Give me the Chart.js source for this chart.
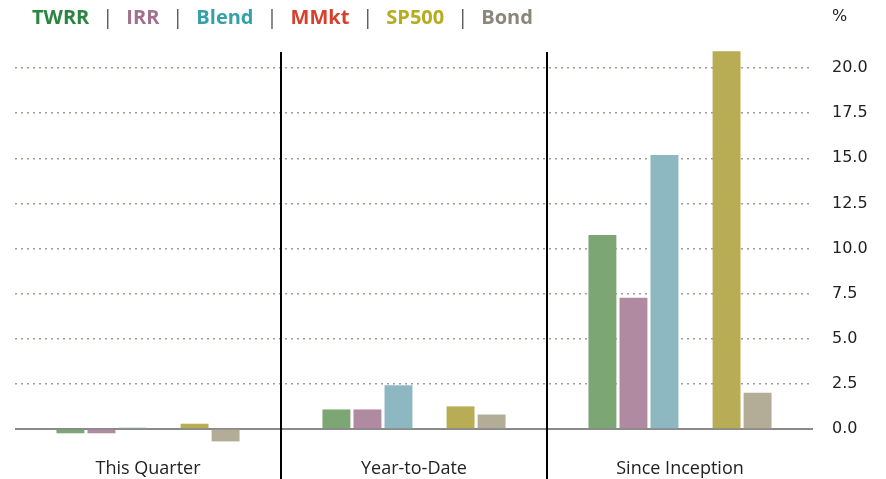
<!DOCTYPE html>
<html>
<head>
<meta charset="utf-8">
<script src="https://cdn.jsdelivr.net/npm/chart.js@4.4.1/dist/chart.umd.min.js"></script>
<style>
  html, body { margin: 0; padding: 0; background: #fff; }
  #wrap { position: relative; width: 886px; height: 479px; }
  #legend { position: absolute; left: 32px; top: 3px; font-family: "Open Sans", sans-serif; font-weight: 700; font-size: 20px; white-space: nowrap; }
  #legend span { display: inline-block; }
  #legend .sep { color: #555; font-weight: 400; margin: 0 13px; }
  canvas { position: absolute; left: 0; top: 0; }
</style>
</head>
<body>
<div id="wrap">
  <canvas id="c" width="886" height="479"></canvas>
  <div id="legend"></div>
</div>
<script>
const categories = ['This Quarter', 'Year-to-Date', 'Since Inception'];
const seriesNames = ['TWRR', 'IRR', 'Blend', 'MMkt', 'SP500', 'Bond'];
const twrr  = [-0.24, 1.08, 10.75];
const irr   = [-0.24, 1.08, 7.27];
const blend = [0.07, 2.42, 15.18];
const mmkt  = [0.04, 0.04, 0.04];
const sp500 = [0.29, 1.25, 20.93];
const bond  = [-0.69, 0.80, 2.01];
const yTicks = [0, 2.5, 5, 7.5, 10, 12.5, 15, 17.5, 20];

const barColors = ['#7da675', '#b08aa1', '#8db8c1', '#7e3a30', '#b8ac55', '#b3ad98'];
const legendColors = ['#2b8540', '#a0708f', '#35a0a8', '#d6402c', '#b5ad1f', '#8a867a'];
const values = [twrr, irr, blend, mmkt, sp500, bond];

// HTML legend
const lg = document.getElementById('legend');
seriesNames.forEach((n, i) => {
  if (i > 0) { const s = document.createElement('span'); s.className = 'sep'; s.textContent = '|'; lg.appendChild(s); }
  const t = document.createElement('span'); t.textContent = n; t.style.color = legendColors[i]; lg.appendChild(t);
});

const overlay = {
  id: 'overlay',
  beforeDatasetsDraw(chart) {
    const { ctx, chartArea, scales } = chart;
    const y0 = scales.y.getPixelForValue(0);
    ctx.save();
    ctx.strokeStyle = '#8a8a8a';
    ctx.lineWidth = 2;
    ctx.beginPath();
    ctx.moveTo(chartArea.left, y0);
    ctx.lineTo(chartArea.right, y0);
    ctx.stroke();
    ctx.restore();
  },
  afterDraw(chart) {
    const { ctx, chartArea, scales } = chart;
    const xs = scales.x;
    ctx.save();
    ctx.strokeStyle = '#000';
    ctx.lineWidth = 2;
    for (let i = 1; i < categories.length; i++) {
      const x = Math.round((xs.getPixelForTick(i - 1) + xs.getPixelForTick(i)) / 2);
      ctx.beginPath();
      ctx.moveTo(x, chartArea.top + 2);
      ctx.lineTo(x, chart.height);
      ctx.stroke();
    }
    ctx.fillStyle = '#222';
    ctx.font = '16px "DejaVu Sans"';
    ctx.textBaseline = 'middle';
    ctx.textAlign = 'left';
    ctx.fillText('%', 832, 17);
    ctx.restore();
  }
};

new Chart(document.getElementById('c'), {
  type: 'bar',
  data: {
    labels: categories,
    datasets: seriesNames.map((n, i) => ({
      label: n,
      data: values[i],
      backgroundColor: barColors[i],
      borderWidth: 0,
      categoryPercentage: 0.7,
      barPercentage: 0.9
    }))
  },
  options: {
    responsive: false,
    animation: false,
    devicePixelRatio: 1,
    layout: { padding: { left: 15, top: 50, right: 0, bottom: 0 } },
    plugins: { legend: { display: false }, tooltip: { enabled: false } },
    scales: {
      x: {
        grid: { display: false },
        border: { display: false },
        ticks: { color: '#222', font: { family: '"Open Sans"', size: 18 }, padding: 3 },
        afterFit(scale) { scale.height = 32; }
      },
      y: {
        position: 'right',
        min: -1,
        max: 21,
        afterBuildTicks(scale) { scale.ticks = yTicks.map(v => ({ value: v })); },
        grid: {
          color: (c) => (c.tick && c.tick.value === 0) ? 'rgba(0,0,0,0)' : '#a19e93',
          lineWidth: 1.5,
          drawTicks: false
        },
        border: { display: false, dash: [2, 4] },
        ticks: {
          color: '#222',
          padding: 19,
          font: { family: '"DejaVu Sans"', size: 16 },
          callback: (v) => Number(v).toFixed(1)
        },
        afterFit(scale) { scale.width = 73; }
      }
    }
  },
  plugins: [overlay]
});
</script>
</body>
</html>
